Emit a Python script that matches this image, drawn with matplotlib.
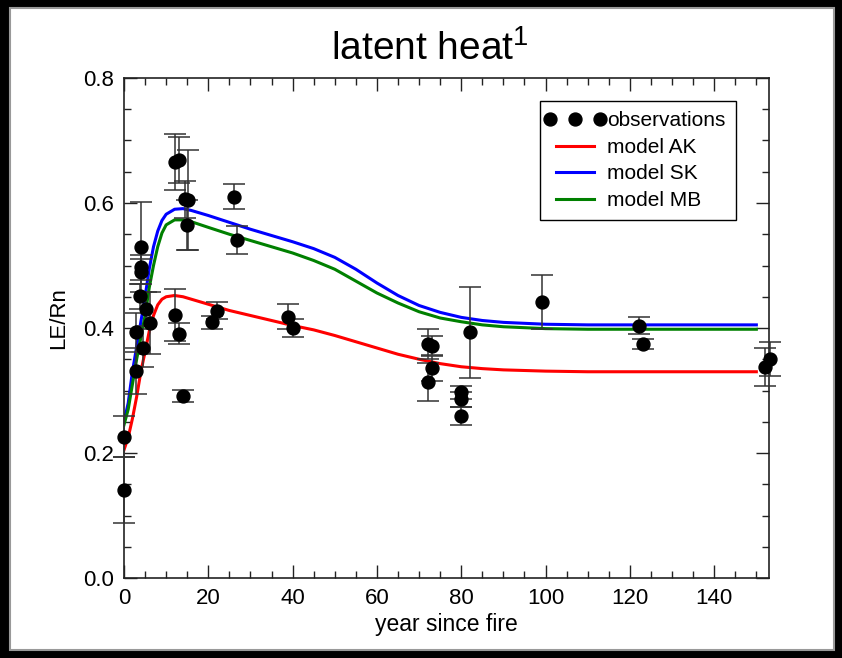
import matplotlib
matplotlib.use("Agg")
import matplotlib.pyplot as plt
from matplotlib.lines import Line2D
from matplotlib.patches import Rectangle
from matplotlib.legend_handler import HandlerLine2D
from matplotlib import font_manager

names = {f.name for f in font_manager.fontManager.ttflist}
FONT = "Liberation Sans" if "Liberation Sans" in names else "DejaVu Sans"
plt.rcParams['font.family'] = [FONT, 'DejaVu Sans']
plt.rcParams['mathtext.fontset'] = 'custom'
plt.rcParams['mathtext.rm'] = FONT

# ---- data ----
obs_x = [0.0, 0.0, 2.8, 2.8, 4.0, 4.0, 4.0, 3.7, 5.2, 6.1, 4.5,
         12.1, 13.0, 14.5, 15.1, 15.0, 26.0, 26.9, 12.1, 13.0, 14.1, 20.9, 22.0,
         39.0, 40.0, 72.0, 73.1, 73.1, 72.0, 80.0, 80.0, 80.0, 82.1, 99.1,
         122.2, 123.2, 152.1, 153.2]
obs_y = [0.226, 0.141, 0.331, 0.393, 0.530, 0.497, 0.490, 0.451, 0.430, 0.408, 0.368,
         0.666, 0.669, 0.606, 0.605, 0.565, 0.610, 0.541, 0.421, 0.391, 0.291, 0.409, 0.428,
         0.418, 0.400, 0.374, 0.372, 0.336, 0.314, 0.297, 0.286, 0.259, 0.393, 0.442,
         0.404, 0.374, 0.338, 0.350]
obs_err = [0.033, 0.053, 0.037, 0.031, 0.072, 0.02, 0.02, 0.02, 0.027, 0.05, 0.03,
           0.045, 0.037, 0.03, 0.08, 0.04, 0.02, 0.022, 0.041, 0.017, 0.01, 0.01, 0.013,
           0.02, 0.015, 0.024, 0.015, 0.02, 0.03, 0.01, 0.012, 0.014, 0.073, 0.043,
           0.014, 0.008, 0.03, 0.027]

model_x = [0, 1, 2, 3, 4, 5, 6, 7, 8, 9, 10, 12, 14, 16, 20, 25, 30, 35, 40, 45,
           50, 55, 60, 65, 70, 75, 80, 85, 90, 100, 110, 120, 130, 140, 150]
model_ak = [0.205, 0.225, 0.255, 0.290, 0.330, 0.362, 0.395, 0.420, 0.437, 0.446, 0.450,
            0.452, 0.450, 0.446, 0.438, 0.428, 0.420, 0.412, 0.404, 0.397,
            0.388, 0.378, 0.368, 0.358, 0.350, 0.343, 0.338, 0.335, 0.333, 0.331,
            0.330, 0.330, 0.330, 0.330, 0.330]
model_sk = [0.250, 0.280, 0.330, 0.370, 0.410, 0.450, 0.495, 0.530, 0.555, 0.572, 0.582,
            0.590, 0.591, 0.588, 0.580, 0.569, 0.558, 0.548, 0.538, 0.527,
            0.513, 0.494, 0.472, 0.452, 0.436, 0.425, 0.417, 0.412, 0.409, 0.406,
            0.405, 0.405, 0.405, 0.405, 0.405]
model_mb = [0.245, 0.270, 0.310, 0.350, 0.385, 0.420, 0.465, 0.500, 0.530, 0.552, 0.565,
            0.573, 0.573, 0.570, 0.561, 0.550, 0.540, 0.530, 0.520, 0.508,
            0.494, 0.475, 0.456, 0.440, 0.426, 0.416, 0.410, 0.405, 0.402, 0.399,
            0.398, 0.398, 0.398, 0.398, 0.398]

legend_labels = ["observations", "model AK", "model SK", "model MB"]

# ---- figure ----
fig = plt.figure(figsize=(8.42, 6.58), dpi=100, facecolor='black')
bg = Rectangle((10/842, 1-650/658), 824/842, 642/658,
               transform=fig.transFigure, facecolor='white',
               edgecolor='#999999', linewidth=1.5, zorder=-10)
fig.patches.append(bg)
ax = fig.add_axes([124/842, 1-578/658, 645/842, 500/658])
ax.set_facecolor('white')
ax.set_zorder(1)

ax.errorbar(obs_x, obs_y, yerr=obs_err, fmt='o', color='black', ecolor='#333333',
            elinewidth=1.1, capsize=8, capthick=1.1, markersize=9.3, clip_on=False, zorder=3)
ax.plot(model_x, model_ak, color='#ff0000', lw=2.2, zorder=2)
ax.plot(model_x, model_sk, color='#0000ff', lw=2.2, zorder=2)
ax.plot(model_x, model_mb, color='#008000', lw=2.2, zorder=2)

ax.set_xlim(0, 153)
ax.set_ylim(0, 0.8)
ax.set_xticks([0, 20, 40, 60, 80, 100, 120, 140])
ax.set_xticks(range(0, 153, 5), minor=True)
ax.set_yticks([0.0, 0.2, 0.4, 0.6, 0.8])
ax.set_yticklabels(["0.0", "0.2", "0.4", "0.6", "0.8"])
ax.set_yticks([i * 0.05 for i in range(17)], minor=True)
ax.tick_params(which='both', direction='in', top=True, right=True, width=1.0,
               color='#222222', labelsize=16)
ax.tick_params(which='major', length=9.5, pad=7)
ax.tick_params(which='minor', length=5)
for s in ax.spines.values():
    s.set_color('#222222')
    s.set_linewidth(1.2)

ax.set_xlabel("year since fire", fontsize=16.5, labelpad=3)
ax.set_ylabel("LE/Rn", fontsize=16, labelpad=6)
ax.yaxis.set_label_coords(-0.085, 0.52)
fig.text(430/842, 1-49/658, r"latent heat$^{\mathregular{1}}$", fontsize=28,
         ha='center', va='center')

handles = [Line2D([], [], marker='o', color='black', linestyle='none', markersize=9.3),
           Line2D([], [], color='#ff0000', lw=2.2),
           Line2D([], [], color='#0000ff', lw=2.2),
           Line2D([], [], color='#008000', lw=2.2)]
leg = ax.legend(handles, legend_labels, loc='upper right',
                bbox_to_anchor=((736-124)/645, (578-101)/500), borderaxespad=0,
                fontsize=15, numpoints=3, handlelength=2.4, handletextpad=0.35,
                labelspacing=0.36, fancybox=False, edgecolor='black', framealpha=1,
                borderpad=0.5,
                handler_map={handles[0]: HandlerLine2D(marker_pad=0)})
leg.get_frame().set_linewidth(1.0)

fig.savefig("out.png", dpi=100, facecolor='black')
